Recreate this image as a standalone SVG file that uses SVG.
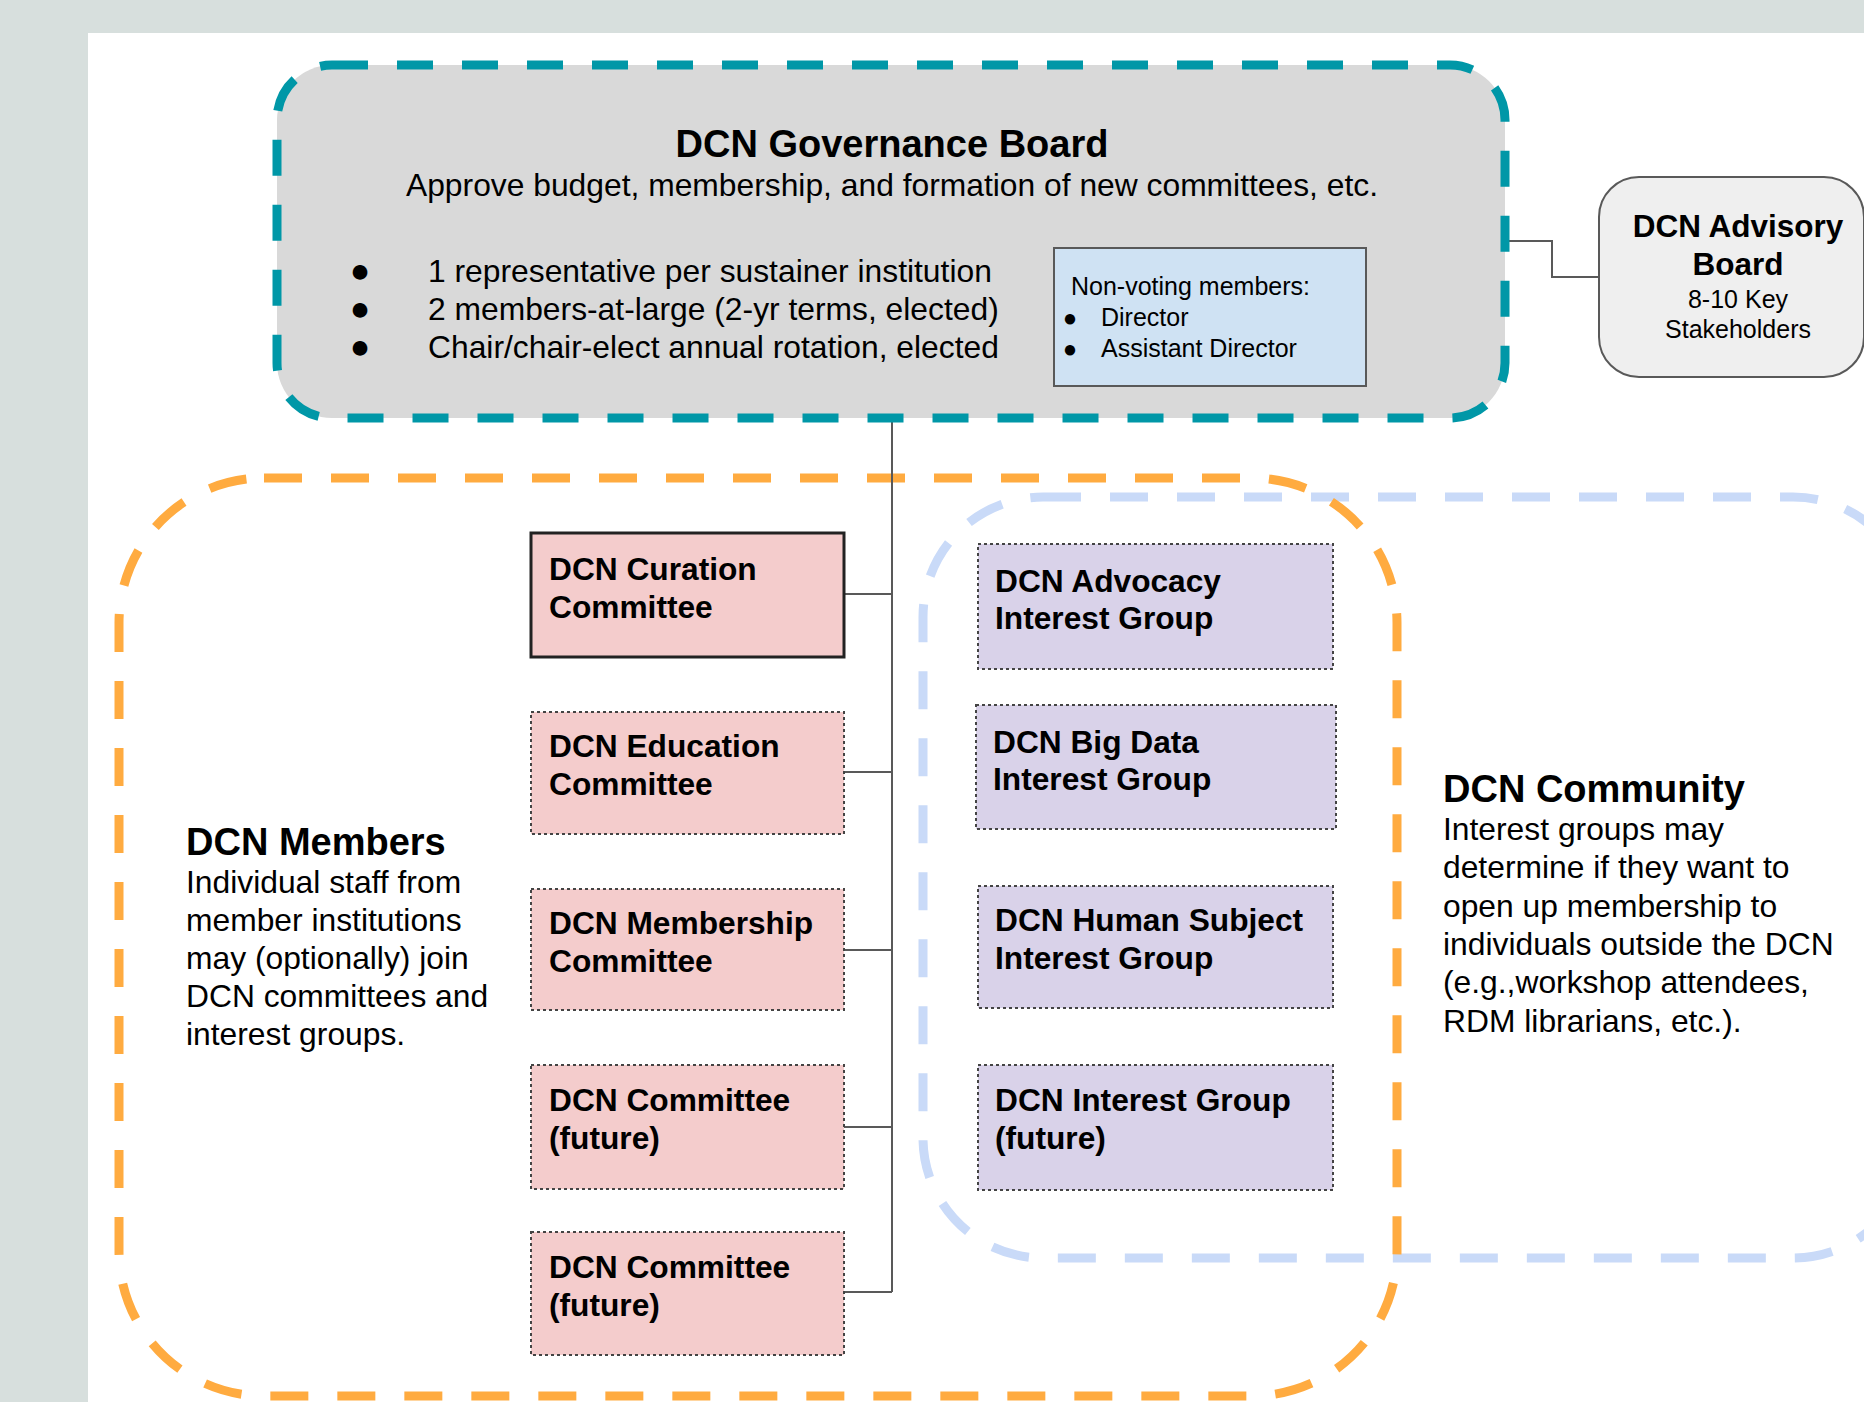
<svg xmlns="http://www.w3.org/2000/svg" width="1864" height="1402" viewBox="0 0 1864 1402">
<style>
text{font-family:"Liberation Sans",Arial,sans-serif;fill:#000}
.t{font-size:38px;font-weight:bold}
.b{font-size:31.8px}
.l{font-size:31.7px;font-weight:bold}
.s{font-size:25px}
.bu{font-size:34px;text-anchor:middle}
.bs{font-size:24px;text-anchor:middle}
.com{fill:#f4cccc;stroke:#444;stroke-width:2;stroke-dasharray:3 3}
.ig{fill:#d9d2e9;stroke:#444;stroke-width:2;stroke-dasharray:3 3}
.con{fill:none;stroke:#595959;stroke-width:2}
</style>
<rect x="0" y="0" width="1864" height="1402" fill="#d7dfdd"/>
<rect x="88" y="33" width="1776" height="1369" fill="#ffffff"/>

<g id="community-region">
<rect x="923" y="497" width="990" height="761" rx="120" fill="none" stroke="#c9daf8" stroke-width="9" stroke-dasharray="38 29"/>
<text class="t" x="1443" y="802">DCN Community</text>
<text class="b" x="1443" y="840">Interest groups may</text>
<text class="b" x="1443" y="878">determine if they want to</text>
<text class="b" x="1443" y="917">open up membership to</text>
<text class="b" x="1443" y="955">individuals outside the DCN</text>
<text class="b" x="1443" y="993">(e.g.,workshop attendees,</text>
<text class="b" x="1443" y="1032">RDM librarians, etc.).</text>
</g>

<g id="members-region">
<rect x="119" y="478" width="1278" height="918" rx="145" fill="none" stroke="#ffab40" stroke-width="9" stroke-dasharray="38 29"/>
<text class="t" x="186" y="855">DCN Members</text>
<text class="b" x="186" y="893">Individual staff from</text>
<text class="b" x="186" y="931">member institutions</text>
<text class="b" x="186" y="969">may (optionally) join</text>
<text class="b" x="186" y="1007">DCN committees and</text>
<text class="b" x="186" y="1045">interest groups.</text>
</g>

<g id="connectors">
<path class="con" d="M892 418 V1292"/>
<path class="con" d="M844 594 H892"/>
<path class="con" d="M844 772 H892"/>
<path class="con" d="M844 950 H892"/>
<path class="con" d="M844 1127 H892"/>
<path class="con" d="M844 1292 H892"/>
<path class="con" d="M1505 241 H1552 V277 H1599"/>
</g>

<g id="governance-board">
<rect x="277" y="65" width="1228" height="353" rx="55" fill="#d9d9d9" stroke="#0097a7" stroke-width="9" stroke-dasharray="36 29"/>
<text class="t" x="892" y="157" text-anchor="middle">DCN Governance Board</text>
<text class="b" x="892" y="196" text-anchor="middle">Approve budget, membership, and formation of new committees, etc.</text>
<text class="bu" x="360" y="282">●</text>
<text class="bu" x="360" y="320">●</text>
<text class="bu" x="360" y="358">●</text>
<text class="b" x="428" y="282">1 representative per sustainer institution</text>
<text class="b" x="428" y="320">2 members-at-large (2-yr terms, elected)</text>
<text class="b" x="428" y="358">Chair/chair-elect annual rotation, elected</text>
</g>

<g id="non-voting-members">
<rect x="1054" y="248" width="312" height="138" fill="#cfe2f3" stroke="#595959" stroke-width="2"/>
<text class="s" x="1071" y="295">Non-voting members:</text>
<text class="bs" x="1070" y="326">●</text>
<text class="s" x="1101" y="326">Director</text>
<text class="bs" x="1070" y="357">●</text>
<text class="s" x="1101" y="357">Assistant Director</text>
</g>

<g id="advisory-board">
<rect x="1599" y="177" width="265" height="200" rx="40" fill="#efefef" stroke="#595959" stroke-width="2"/>
<text class="l" x="1738" y="237" text-anchor="middle" style="font-size:31.5px">DCN Advisory</text>
<text class="l" x="1738" y="275" text-anchor="middle" style="font-size:31.5px">Board</text>
<text class="s" x="1738" y="308" text-anchor="middle">8-10 Key</text>
<text class="s" x="1738" y="338" text-anchor="middle">Stakeholders</text>
</g>

<g id="curation-committee">
<rect x="531" y="533" width="313" height="124" fill="#f4cccc" stroke="#222" stroke-width="3"/>
<text class="l" x="549" y="580">DCN Curation</text>
<text class="l" x="549" y="618">Committee</text>
</g>
<g id="education-committee">
<rect class="com" x="531" y="712" width="313" height="122"/>
<text class="l" x="549" y="757">DCN Education</text>
<text class="l" x="549" y="795">Committee</text>
</g>
<g id="membership-committee">
<rect class="com" x="531" y="889" width="313" height="121"/>
<text class="l" x="549" y="934">DCN Membership</text>
<text class="l" x="549" y="972">Committee</text>
</g>
<g id="future-committee-1">
<rect class="com" x="531" y="1065" width="313" height="124"/>
<text class="l" x="549" y="1111">DCN Committee</text>
<text class="l" x="549" y="1149">(future)</text>
</g>
<g id="future-committee-2">
<rect class="com" x="531" y="1232" width="313" height="123"/>
<text class="l" x="549" y="1278">DCN Committee</text>
<text class="l" x="549" y="1316">(future)</text>
</g>

<g id="advocacy-ig">
<rect class="ig" x="978" y="544" width="355" height="125"/>
<text class="l" x="995" y="592">DCN Advocacy</text>
<text class="l" x="995" y="629">Interest Group</text>
</g>
<g id="bigdata-ig">
<rect class="ig" x="976" y="705" width="360" height="124"/>
<text class="l" x="993" y="753">DCN Big Data</text>
<text class="l" x="993" y="790">Interest Group</text>
</g>
<g id="humansubject-ig">
<rect class="ig" x="978" y="886" width="355" height="122"/>
<text class="l" x="995" y="931">DCN Human Subject</text>
<text class="l" x="995" y="969">Interest Group</text>
</g>
<g id="future-ig">
<rect class="ig" x="978" y="1065" width="355" height="125"/>
<text class="l" x="995" y="1111">DCN Interest Group</text>
<text class="l" x="995" y="1149">(future)</text>
</g>
</svg>
